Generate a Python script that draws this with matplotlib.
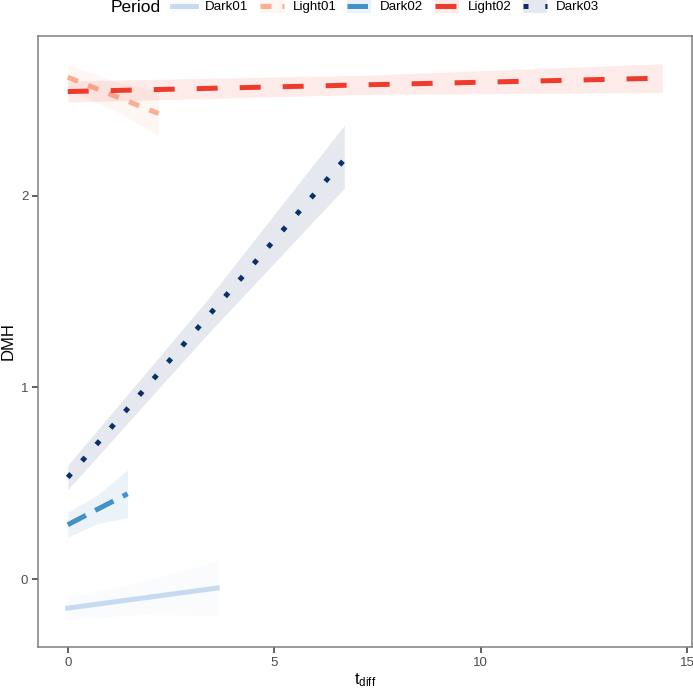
import matplotlib
matplotlib.use('Agg')
import matplotlib.pyplot as plt
from matplotlib.lines import Line2D
from matplotlib.patches import Rectangle

plt.rcParams['font.family'] = ['Liberation Sans', 'DejaVu Sans']
plt.rcParams['mathtext.default'] = 'regular'

# groups (order = drawing order)
periods = ['Dark01', 'Light01', 'Dark02', 'Light02', 'Dark03']
colors = ['#c6dbef', '#fcae91', '#4292c6', '#ef3b2c', '#08306b']
dashes = [None, (2.2, 2.2), (4.1, 2.1), (4.2, 4.4), (1, 3.36)]

# fitted lines: start, middle, end
x_vals = [
    [0, 1.8, 3.62],
    [0, 1.1, 2.2],
    [0, 0.72, 1.45],
    [0, 7.2, 14.4],
    [0, 3.35, 6.7],
]
fit = [
    [-0.152, -0.100, -0.047],
    [2.62, 2.525, 2.43],
    [0.283, 0.364, 0.445],
    [2.545, 2.58, 2.615],
    [0.53, 1.36, 2.19],
]
lower = [
    [-0.21, -0.185, -0.19],
    [2.554, 2.45, 2.316],
    [0.218, 0.29, 0.32],
    [2.49, 2.53, 2.54],
    [0.466, 1.27, 2.04],
]
upper = [
    [-0.095, -0.015, 0.094],
    [2.686, 2.60, 2.544],
    [0.348, 0.44, 0.57],
    [2.60, 2.63, 2.69],
    [0.594, 1.45, 2.37],
]

W, H = 693, 690
fig = plt.figure(figsize=(W / 100, H / 100), dpi=100)
ax = fig.add_axes([38 / W, 1 - 647 / H, (692 - 38) / W, (647 - 36) / H])

for i, p in enumerate(periods):
    ax.fill_between(x_vals[i], lower[i], upper[i], color=colors[i], alpha=0.1,
                    lw=0, zorder=2 + 2 * i)
    line, = ax.plot(x_vals[i], fit[i], color=colors[i], lw=3.6, zorder=3 + 2 * i)
    if dashes[i]:
        line.set_dashes(dashes[i])

# ggplot-like expansion
xmax = max(max(x) for x in x_vals)
ax.set_xlim(-0.05 * xmax, xmax * 1.05)
ymin = min(min(l) for l in lower)
ymax = max(max(u) for u in upper)
pad = 0.05 * (ymax - ymin)
ax.set_ylim(ymin - pad, ymax + pad)

ax.set_xticks([0, 5, 10, 15])
ax.set_yticks([0, 1, 2])
for s in ax.spines.values():
    s.set_color('#7f7f7f')
    s.set_linewidth(1.1)
ax.tick_params(length=4, width=1.1, color='#333333', labelcolor='#4d4d4d',
               labelsize=9.5, pad=3)
ax.set_xlabel('$t_{diff}$', fontsize=12, labelpad=2)
ax.set_ylabel('DMH', fontsize=12, labelpad=4)

# legend on top, drawn by hand
fig.text(111 / W, 1 - 7 / H, 'Period', fontsize=12.5, va='center', ha='left')
key_left = [172, 260, 347, 435, 523]
for i, p in enumerate(periods):
    x0 = key_left[i]
    fig.add_artist(Rectangle((x0 / W, 1 - 13 / H), 24 / W, 14 / H,
                             transform=fig.transFigure, color=colors[i],
                             alpha=0.1, lw=0))
    ln = Line2D([x0 / W, (x0 + 24) / W], [1 - 6 / H, 1 - 6 / H],
                transform=fig.transFigure, color=colors[i], lw=3.6)
    if dashes[i]:
        ln.set_dashes(dashes[i])
    fig.add_artist(ln)
    fig.text((x0 + 33) / W, 1 - 7 / H, p, fontsize=9.6, va='center', ha='left')

fig.savefig('out.png', dpi=100)
